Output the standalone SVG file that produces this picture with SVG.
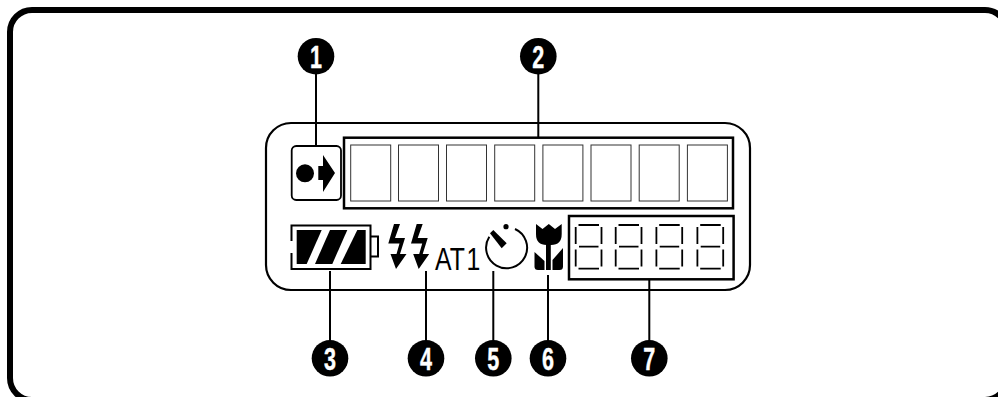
<svg xmlns="http://www.w3.org/2000/svg" width="998" height="397" viewBox="0 0 998 397">
<style>
.ln{fill:none;stroke:#000}
.lead{stroke:#000;stroke-width:2;fill:none}
.cell{fill:#fff;stroke:#333;stroke-width:1}
.seg{stroke:#000;stroke-width:1.8;fill:none}
.num{font-family:"Liberation Sans",Arial,sans-serif;font-weight:700;font-size:31px;fill:#fff;stroke:#fff;stroke-width:.4;text-anchor:middle}
.at{font-family:"Liberation Sans",Arial,sans-serif;font-size:31px;fill:#000;word-spacing:-6px}
</style>
<defs>
<path id="digit" class="seg" d="M578.5 225H599M579 246.7H598.5M578.5 268.7H599M575.7 227V244M601.5 227V244M575.7 249.5V266.5M601.5 249.5V266.5"/>
<polygon id="bolt" points="394,224 400,224 395,238 405,238 400,254 406.5,254 396,269 390.5,254 396.5,254 399.5,243.5 388.3,243.5"/>
</defs>
<rect width="998" height="397" fill="#fff"/>
<g id="frame"><rect class="ln" x="10" y="10" width="997" height="390" rx="22" stroke-width="6"/></g>
<g id="lcd"><rect class="ln" x="266" y="123" width="484" height="167" rx="25" stroke-width="2.2"/></g>
<g id="connectors">
<path class="lead" d="M316 70V146M538.3 70V138M330 271V345M426 271V345M493.3 271V345M548 275V345M649.3 279V345"/>
</g>
<g id="focus-icon">
<rect class="ln" x="291.7" y="146" width="49.3" height="54" rx="4.5" stroke-width="1.8"/>
<circle cx="305" cy="173.3" r="9"/>
<polygon points="318.3,166 323,166 323,155 335,173 323,192 323,180 318.3,180"/>
</g>
<g id="name-display">
<rect class="ln" x="344" y="137.7" width="389" height="70.6" stroke-width="2.5"/>
<rect class="cell" x="350.7" y="145" width="40" height="56"/>
<rect class="cell" x="398.5" y="145" width="40" height="56"/>
<rect class="cell" x="446.5" y="145" width="40" height="56"/>
<rect class="cell" x="494.7" y="145" width="40" height="56"/>
<rect class="cell" x="542.9" y="145" width="40" height="56"/>
<rect class="cell" x="591" y="145" width="40" height="56"/>
<rect class="cell" x="639.2" y="145" width="40" height="56"/>
<rect class="cell" x="687.4" y="145" width="40" height="56"/>
</g>
<g id="battery">
<path class="ln" stroke-width="2" d="M291.5 241V225.5H370.5V269H291.5V253M370.5 236.5H378V256.5H370.5"/>
<polygon points="296.7,230 321.7,230 306.7,264 296.7,264"/>
<polygon points="330,230 347.3,230 332.3,264 315,264"/>
<polygon points="357.3,230 365.7,230 365.7,264 340.7,264"/>
</g>
<g id="flash">
<use href="#bolt"/>
<use href="#bolt" x="22.7"/>
<text class="at" transform="translate(435 269.5) scale(.8 1)">AT 1</text>
</g>
<g id="timer">
<path class="ln" stroke-width="2" d="M515 229A20.5 20.5 0 1 1 489.3 236.7"/>
<circle cx="506" cy="226.7" r="2.6"/>
<polygon points="490,233.3 493.3,230 506.7,243.3 501.7,248.3"/>
</g>
<g id="macro">
<path d="M536 224L542.5 229L548.8 224L555 229L561.7 224V234Q561.7 245 551 245H546.7Q536 245 536 234Z"/>
<rect x="546" y="244" width="4.8" height="26"/>
<path d="M534.5 252L544.5 261V270H538Q534.5 270 534.5 266.5Z"/>
<path d="M563 248L552.5 260V270H559.5Q563 270 563 266.5Z"/>
</g>
<g id="counter">
<rect class="ln" x="569" y="216" width="164.6" height="63.3" stroke-width="2.5"/>
<use id="d1" href="#digit"/>
<use id="d2" href="#digit" x="40"/>
<use id="d3" href="#digit" x="80.7"/>
<use id="d4" href="#digit" x="121.7"/>
</g>
<g id="badge-1"><circle cx="316" cy="56.2" r="18.3"/><text class="num" x="316" y="67.5" textLength="12" lengthAdjust="spacingAndGlyphs">1</text></g>
<g id="badge-2"><circle cx="538.3" cy="56.2" r="18.3"/><text class="num" x="538.3" y="67.5" textLength="12" lengthAdjust="spacingAndGlyphs">2</text></g>
<g id="badge-3"><circle cx="330" cy="358.3" r="18.3"/><text class="num" x="330" y="369.5" textLength="12" lengthAdjust="spacingAndGlyphs">3</text></g>
<g id="badge-4"><circle cx="426" cy="358.3" r="18.3"/><text class="num" x="426" y="369.5" textLength="12" lengthAdjust="spacingAndGlyphs">4</text></g>
<g id="badge-5"><circle cx="493.3" cy="358.3" r="18.3"/><text class="num" x="493.3" y="369.5" textLength="12" lengthAdjust="spacingAndGlyphs">5</text></g>
<g id="badge-6"><circle cx="548" cy="358.3" r="18.3"/><text class="num" x="548" y="369.5" textLength="12" lengthAdjust="spacingAndGlyphs">6</text></g>
<g id="badge-7"><circle cx="649.3" cy="358.3" r="18.3"/><text class="num" x="649.3" y="369.5" textLength="12" lengthAdjust="spacingAndGlyphs">7</text></g>
</svg>
